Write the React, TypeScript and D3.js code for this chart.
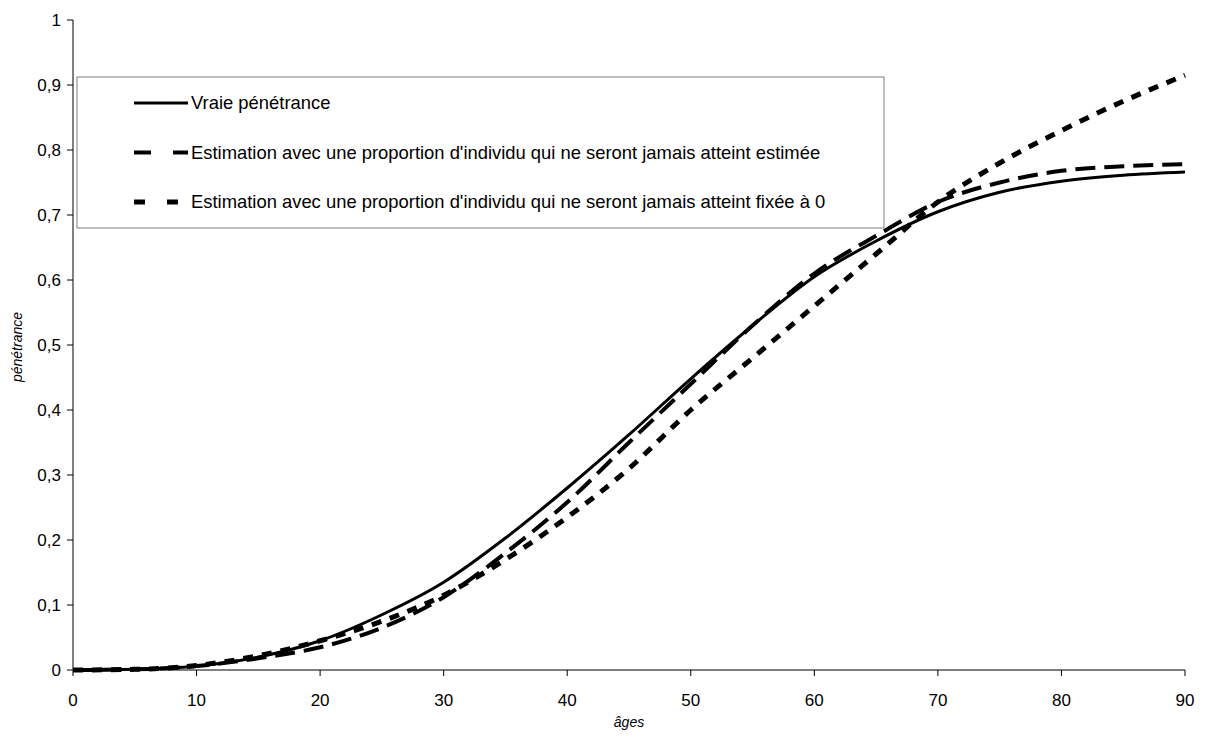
import React, { useEffect } from "react";
import * as d3 from "d3";

const ages = [0, 5, 10, 15, 20, 25, 30, 35, 40, 45, 50, 55, 60, 65, 70, 75, 80, 85, 90];
const vraie = [0, 0.001, 0.006, 0.02, 0.045, 0.085, 0.135, 0.203, 0.28, 0.362, 0.448, 0.53, 0.605, 0.66, 0.705, 0.735, 0.752, 0.761, 0.766];
const estimee = [0, 0.001, 0.006, 0.018, 0.035, 0.065, 0.112, 0.18, 0.258, 0.35, 0.44, 0.53, 0.61, 0.668, 0.72, 0.75, 0.768, 0.775, 0.778];
const fixee = [0, 0.001, 0.007, 0.022, 0.045, 0.075, 0.115, 0.17, 0.235, 0.31, 0.4, 0.48, 0.56, 0.64, 0.72, 0.78, 0.83, 0.875, 0.915];
const xTicks = [0, 10, 20, 30, 40, 50, 60, 70, 80, 90];
const yTicks = [0, 0.1, 0.2, 0.3, 0.4, 0.5, 0.6, 0.7, 0.8, 0.9, 1];
const seriesNames = [
  "Vraie pénétrance",
  "Estimation avec une proportion d'individu qui ne seront jamais atteint estimée",
  "Estimation avec une proportion d'individu qui ne seront jamais atteint fixée à 0",
];

const W = 1207, H = 740;
const m = { left: 73, right: 1185, top: 20, bottom: 670 };
const font = "'Liberation Sans', Arial, sans-serif";

export default function App() {
  useEffect(() => {
    document.body.style.margin = "0";
  }, []);
  const x = d3.scaleLinear().domain([0, 90]).range([m.left, m.right]);
  const y = d3.scaleLinear().domain([0, 1]).range([m.bottom, m.top]);
  const line = d3
    .line<number>()
    .x((_, i) => x(ages[i]))
    .y((d) => y(d))
    .curve(d3.curveMonotoneX);
  const styles = [
    { w: 3, dash: "none" },
    { w: 4, dash: "20,9" },
    { w: 5, dash: "10,9" },
  ];
  const data = [vraie, estimee, fixee];
  const fmt = (v: number) => (v === 0 ? "0" : v === 1 ? "1" : v.toFixed(1).replace(".", ","));
  return (
    <svg width={W} height={H} style={{ display: "block", background: "#fff" }} fontFamily={font}>
      {/* axes */}
      <line x1={m.left} x2={m.left} y1={m.top} y2={m.bottom} stroke="#000" />
      <line x1={m.left} x2={m.right} y1={m.bottom} y2={m.bottom} stroke="#000" />
      {yTicks.map((t) => (
        <g key={"y" + t}>
          <line x1={m.left - 6} x2={m.left} y1={y(t)} y2={y(t)} stroke="#000" />
          <text x={m.left - 12} y={y(t)} dy="0.35em" textAnchor="end" fontSize={17}>
            {fmt(t)}
          </text>
        </g>
      ))}
      {xTicks.map((t) => (
        <g key={"x" + t}>
          <line x1={x(t)} x2={x(t)} y1={m.bottom} y2={m.bottom + 6} stroke="#000" />
          <text x={x(t)} y={m.bottom + 36} textAnchor="middle" fontSize={17}>
            {t}
          </text>
        </g>
      ))}
      <text x={(m.left + m.right) / 2} y={727} textAnchor="middle" fontSize={14} fontStyle="italic">
        âges
      </text>
      <text
        transform={`translate(22, ${(m.top + m.bottom) / 2 + 2}) rotate(-90)`}
        textAnchor="middle"
        fontSize={14}
        fontStyle="italic"
      >
        pénétrance
      </text>
      {/* lines */}
      {data.map((d, i) => (
        <path
          key={"l" + i}
          d={line(d) || ""}
          fill="none"
          stroke="#000"
          strokeWidth={styles[i].w}
          strokeDasharray={styles[i].dash}
        />
      ))}
      {/* legend */}
      <rect x={77} y={77} width={807} height={151} fill="#fff" stroke="#808080" strokeWidth={1} />
      {seriesNames.map((n, i) => {
        const ly = 103 + i * 49.5;
        return (
          <g key={"lg" + i}>
            <line
              x1={134}
              x2={188}
              y1={ly}
              y2={ly}
              stroke="#000"
              strokeWidth={styles[i].w}
              strokeDasharray={i === 0 ? "none" : i === 1 ? "17,22" : "11,22"}
            />
            <text x={191} y={ly} dy="0.35em" fontSize={18.4}>
              {n}
            </text>
          </g>
        );
      })}
    </svg>
  );
}
